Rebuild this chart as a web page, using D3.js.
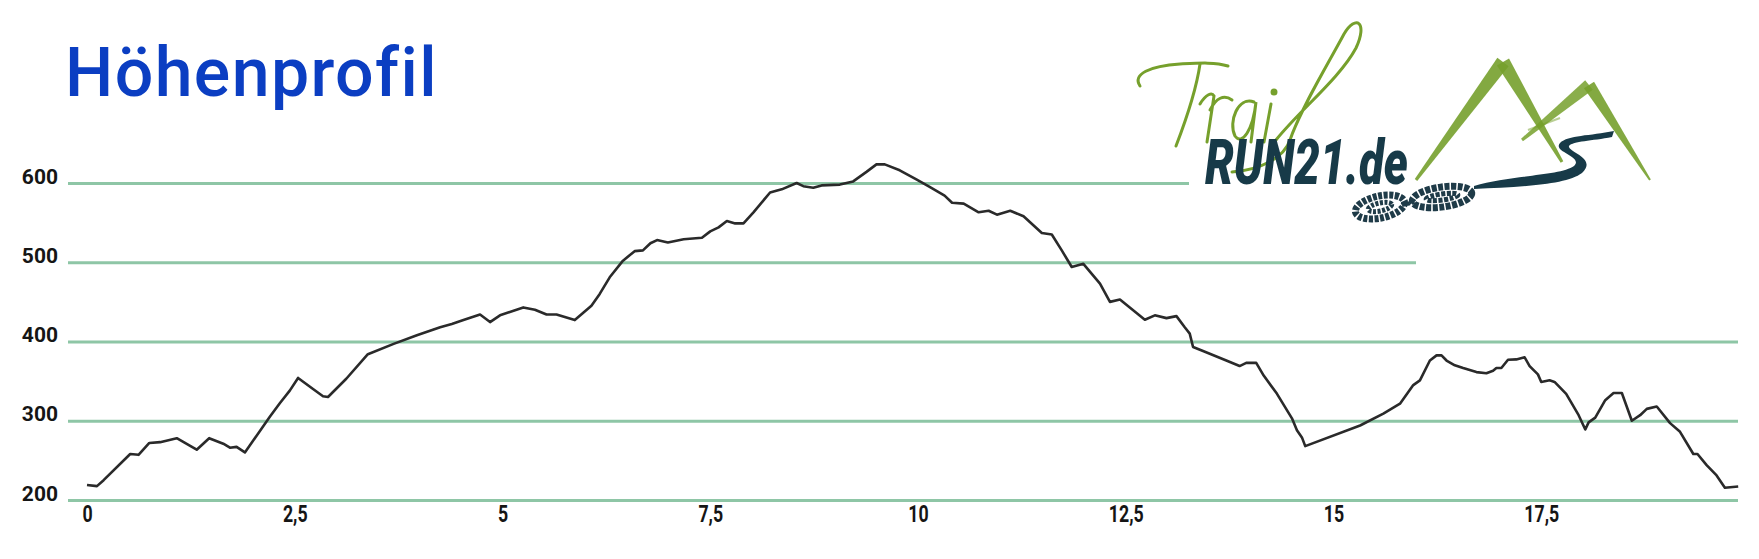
<!DOCTYPE html>
<html>
<head>
<meta charset="utf-8">
<script src="https://cdn.jsdelivr.net/npm/d3@7"></script>
<style>
  html, body { margin: 0; padding: 0; background: #ffffff; }
  svg { display: block; }
</style>
</head>
<body>
<svg id="chart" width="1759" height="559"></svg>
<script>
// ---------- data ----------
const titleText = "Höhenprofil";
const kmValues = [0,0.12,0.20,0.52,0.62,0.75,0.88,1.08,1.32,1.47,1.64,1.72,1.80,1.90,2.20,2.32,2.44,2.54,2.72,2.84,2.90,3.12,3.38,3.69,3.97,4.25,4.39,4.53,4.73,4.85,4.97,5.25,5.39,5.53,5.65,5.87,6.07,6.17,6.29,6.45,6.59,6.69,6.78,6.86,6.99,7.18,7.40,7.50,7.60,7.70,7.80,7.90,8.02,8.22,8.36,8.54,8.62,8.74,8.84,9.06,9.22,9.38,9.50,9.60,9.78,9.98,10.14,10.32,10.41,10.55,10.73,10.85,10.95,11.11,11.27,11.49,11.61,11.73,11.85,11.99,12.19,12.31,12.43,12.73,12.85,12.99,13.11,13.21,13.27,13.31,13.43,13.71,13.87,13.95,14.07,14.16,14.32,14.50,14.56,14.62,14.66,15.32,15.60,15.80,15.96,16.04,16.16,16.24,16.30,16.36,16.46,16.56,16.72,16.84,16.92,16.96,17.02,17.10,17.20,17.30,17.36,17.46,17.50,17.60,17.66,17.80,17.95,18.03,18.07,18.15,18.27,18.37,18.47,18.59,18.69,18.77,18.89,19.05,19.17,19.33,19.38,19.49,19.61,19.71,19.87];
const elevValues = [219,217.5,225,258,257,272,273,278,263.5,278,271,266,267,260,305,322,338,354,340,331,330,353,384,397,408,418,422,427,434,424.5,433,443,440,434,434,427,445,460,481,502,514,515,524,528,525,529,531,539,544,552,549,549,563,588,592,600,596,594,597,598,602,614,623.5,623.5,616,604.5,595,584,575,574,563,565,560,565,558,537,535,515,494,498,473,450,453,427.5,433,429.5,432,418,410,393,388,376,369,373,373,357,334,303,288,279,268,294,309,321.5,345,351,376,382.5,382.5,376,370,366.5,361.4,360,363,366.5,366.5,377,377.4,380,369,358.5,349,351,349,334,307,289,298,304,326,335,335,300,307,315,318,297,286,258,258,244,231,215.5,217];
const xTicks = [0,2.5,5,7.5,10,12.5,15,17.5];
const yTicks = [200,300,400,500,600];

// ---------- setup ----------
const svg = d3.select("#chart");
const x = d3.scaleLinear().domain([0, 20]).range([87, 1749]);
const y = d3.scaleLinear().domain([200, 600]).range([500, 183]);
const deLocale = d3.formatLocale({decimal: ",", thousands: ".", grouping: [3], currency: ["", " €"]});
const fmt = deLocale.format("~g");

svg.append("rect").attr("width", 1759).attr("height", 559).attr("fill", "#ffffff");

// ---------- title ----------
svg.append("text")
  .attr("x", 65).attr("y", 96)
  .attr("font-family", "Roboto, 'DejaVu Sans', sans-serif")
  .attr("font-weight", 500)
  .attr("font-size", 68)
  .attr("letter-spacing", 1.4)
  .attr("fill", "#0b3ec2")
  .text(titleText);

// ---------- gridlines + y labels ----------
const gridX0 = 68, gridX1 = 1738;
const yAxis = svg.append("g")
  .attr("transform", `translate(${gridX0},0)`)
  .call(d3.axisLeft(y).tickValues(yTicks).tickSize(-(gridX1 - gridX0)).tickPadding(10));
yAxis.select(".domain").remove();
yAxis.selectAll(".tick line").attr("stroke", "#8ec6a6").attr("stroke-width", 3);
yAxis.selectAll(".tick text")
  .attr("dy", "0em")
  .attr("font-family", "Roboto, 'DejaVu Sans', sans-serif")
  .attr("font-weight", 700)
  .attr("font-size", 21)
  .attr("fill", "#151515");

// ---------- x labels ----------
const xAxis = svg.append("g")
  .attr("transform", `translate(0,${y(200)})`)
  .call(d3.axisBottom(x).tickValues(xTicks).tickSize(0).tickPadding(5).tickFormat(fmt));
xAxis.select(".domain").remove();
xAxis.selectAll(".tick text")
  .attr("transform", "scale(0.74,1)")
  .attr("font-family", "Roboto, 'DejaVu Sans', sans-serif")
  .attr("font-weight", 700)
  .attr("font-size", 24)
  .attr("fill", "#151515");

// ---------- logo backdrop (hides grid under logo) ----------
svg.append("rect").attr("x", 1189).attr("y", 150).attr("width", 570).attr("height", 55).attr("fill", "#fff");
svg.append("rect").attr("x", 1416).attr("y", 245).attr("width", 343).attr("height", 35).attr("fill", "#fff");

// ---------- elevation line ----------
const pts = kmValues.map((k, i) => [k, elevValues[i]]);
svg.append("path")
  .datum(pts)
  .attr("fill", "none")
  .attr("stroke", "#2a2a2a")
  .attr("stroke-width", 2.6)
  .attr("stroke-linejoin", "round")
  .attr("d", d3.line().x(d => x(d[0])).y(d => y(d[1])));

// ---------- logo ----------
const logo = svg.append("g").attr("class", "logo");
const green = "#76a02c", navy = "#173a48";
const wedge = (a, b, wa, wb) => {
  const dx = b[0] - a[0], dy = b[1] - a[1], L = Math.hypot(dx, dy);
  const nx = -dy / L, ny = dx / L;
  return `M${a[0] + nx * wa},${a[1] + ny * wa} L${b[0] + nx * wb},${b[1] + ny * wb} L${b[0] - nx * wb},${b[1] - ny * wb} L${a[0] - nx * wa},${a[1] - ny * wa} Z`;
};
logo.append("path").attr("d", wedge([1416, 180], [1503, 62], 1.5, 7)).attr("fill", green).attr("opacity", 0.9);
logo.append("path").attr("d", wedge([1503, 62], [1562, 162], 7, 1.5)).attr("fill", green).attr("opacity", 0.9);
logo.append("path").attr("d", wedge([1522, 140], [1589, 85], 1.5, 6)).attr("fill", green).attr("opacity", 0.85);
logo.append("path").attr("d", wedge([1589, 85], [1650, 180], 6, 1)).attr("fill", green).attr("opacity", 0.9);
logo.append("path").attr("d", "M1528,130 L1560,118").attr("stroke", green).attr("stroke-width", 2).attr("opacity", 0.5);
// road
logo.append("path")
  .attr("d", "M1474,186 C1510,175 1560,176 1574,166 C1584,156 1552,152 1560,143 C1568,135 1590,136 1614,131 L1612,137 C1592,141 1573,141 1569,146 C1567,152 1598,158 1582,173 C1566,185 1520,187 1474,189 Z")
  .attr("fill", navy);
// footprints
const fp = logo.append("g").attr("fill", "none").attr("stroke", "#1f3b48");
fp.append("ellipse").attr("cx", 1380).attr("cy", 207).attr("rx", 25).attr("ry", 11)
  .attr("transform", "rotate(-12,1380,207)").attr("stroke-width", 7).attr("stroke-dasharray", "4 1.5");
fp.append("ellipse").attr("cx", 1380).attr("cy", 207).attr("rx", 12).attr("ry", 4)
  .attr("transform", "rotate(-12,1380,207)").attr("stroke-width", 5).attr("stroke-dasharray", "3 1.5");
fp.append("ellipse").attr("cx", 1442).attr("cy", 197).attr("rx", 30).attr("ry", 10)
  .attr("transform", "rotate(-8,1442,197)").attr("stroke-width", 7).attr("stroke-dasharray", "5 1.5");
fp.append("ellipse").attr("cx", 1442).attr("cy", 197).attr("rx", 16).attr("ry", 3)
  .attr("transform", "rotate(-8,1442,197)").attr("stroke-width", 5).attr("stroke-dasharray", "4 1.5");
fp.append("path").attr("d", "M1402,205 L1416,202").attr("stroke-width", 4).attr("stroke-dasharray", "3 2");
// "Trail" script
const tr = logo.append("g").attr("fill", "none").attr("stroke", green).attr("stroke-width", 3).attr("stroke-linecap", "round");
tr.append("path").attr("d", "M1140,86 C1132,74 1150,66 1180,64 C1200,63 1215,62 1228,66");
tr.append("path").attr("d", "M1200,64 C1196,92 1186,120 1176,146");
tr.append("path").attr("d", "M1200,104 C1206,94 1212,92 1214,96 L1207,142 M1210,110 C1216,98 1224,94 1232,100");
tr.append("path").attr("d", "M1254,102 C1238,96 1228,122 1235,136 C1242,146 1253,130 1256,102 L1251,142");
tr.append("path").attr("d", "M1271,104 L1264,142");
tr.append("circle").attr("cx", 1274).attr("cy", 92).attr("r", 2).attr("fill", green);
tr.append("path").attr("d", "M1276,140 C1300,110 1340,78 1356,48 C1368,22 1356,14 1344,34 C1328,64 1300,110 1290,140 C1284,158 1260,170 1232,172");
// RUN21.de
logo.append("text")
  .attr("x", 1205).attr("y", 184)
  .attr("textLength", 203).attr("lengthAdjust", "spacingAndGlyphs")
  .attr("font-family", "Roboto, 'DejaVu Sans', sans-serif")
  .attr("font-weight", 900)
  .attr("font-style", "italic")
  .attr("font-size", 62)
  .attr("fill", navy)
  .text("RUN21.de");
</script>
</body>
</html>
